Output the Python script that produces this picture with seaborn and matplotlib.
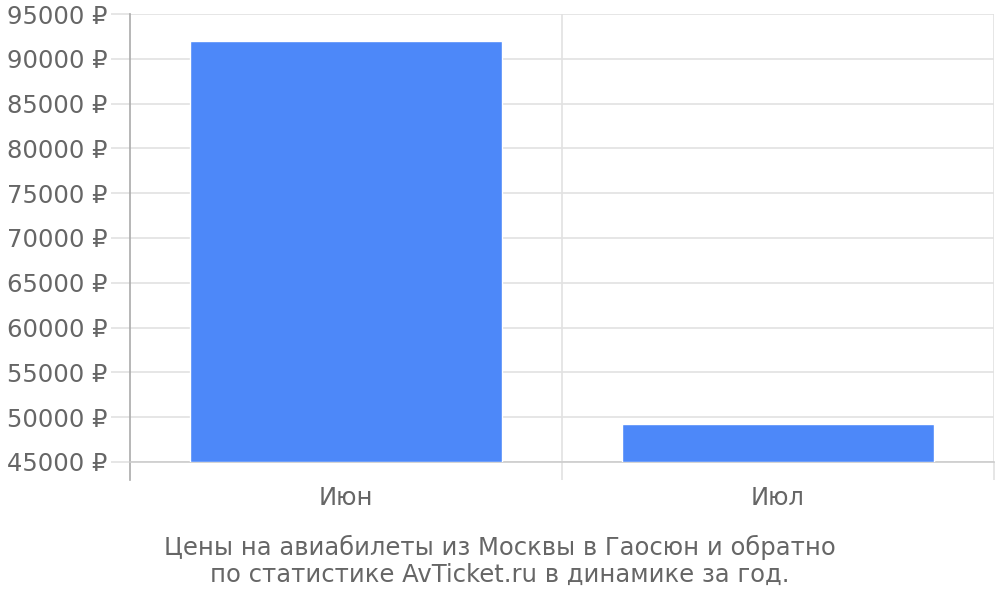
import matplotlib
matplotlib.use("Agg")
import matplotlib.pyplot as plt
import seaborn as sns
import pandas as pd

# Data
months = ["Июн", "Июл"]
prices = [92000, 49200]
y_ticks = [45000, 50000, 55000, 60000, 65000, 70000, 75000, 80000, 85000, 90000, 95000]
caption = "Цены на авиабилеты из Москвы в Гаосюн и обратно\nпо статистике AvTicket.ru в динамике за год."

BASE = 45000
TEXT_COLOR = "#666666"
GRID_COLOR = "#e2e2e2"
BAR_COLOR = "#4d88f9"
FS = 17.5

sns.set_theme(style="white")
plt.rcParams["font.family"] = ["DejaVu Sans"]

df = pd.DataFrame({"month": months, "price": prices})

fig = plt.figure(figsize=(10, 6), dpi=100)
ax = fig.add_axes([0.13, 1 - 462 / 600, 0.994 - 0.13, (462 - 14) / 600])

sns.barplot(data=df, x="month", y="price", color=BAR_COLOR, saturation=1,
            width=0.72, ax=ax, zorder=3)
# bars should start at the base of the axis
for bar in ax.patches:
    bar.set_y(BASE)
    bar.set_height(bar.get_height() - BASE)

ax.set_ylim(BASE, 95000)
ax.set_xlim(-0.5, 1.5)
ax.set_yticks(y_ticks)
ax.set_yticklabels([f"{v} ₽" for v in y_ticks])
ax.set_xlabel("")
ax.set_ylabel("")

# horizontal grid + tick extensions
ax.grid(axis="y", color=GRID_COLOR, linewidth=1.2, zorder=0)
ax.tick_params(axis="y", length=14, width=1.2, color=GRID_COLOR, pad=2,
               labelsize=FS, labelcolor=TEXT_COLOR, left=True)

# vertical separators between categories
ax.set_xticks([0.5, 1.5], minor=True)
ax.grid(axis="x", which="minor", color=GRID_COLOR, linewidth=1.2, zorder=0)
ax.tick_params(axis="x", which="minor", length=13, width=1.2, color=GRID_COLOR,
               direction="out", bottom=True)
ax.tick_params(axis="x", which="major", length=0, pad=17, labelsize=FS,
               labelcolor=TEXT_COLOR)

for side in ["top", "right"]:
    ax.spines[side].set_visible(False)
ax.spines["bottom"].set_color("#cccccc")
ax.spines["bottom"].set_linewidth(1.2)
ax.spines["left"].set_color("#aaaaaa")
ax.spines["left"].set_linewidth(1.2)
ax.spines["left"].set_bounds(BASE - 2000, 95000)

fig.text(0.5, 0.065, caption, ha="center", va="center", fontsize=FS,
         color=TEXT_COLOR, linespacing=1.15)

fig.savefig("out.png", dpi=100)
